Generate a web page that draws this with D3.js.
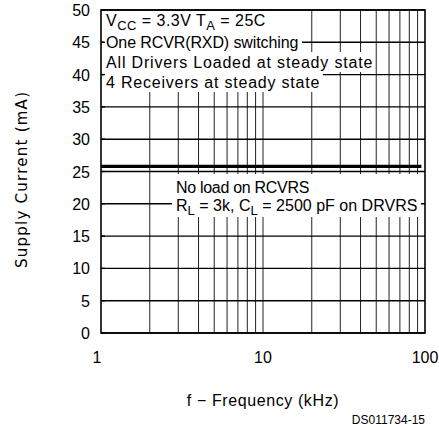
<!DOCTYPE html>
<html>
<head>
<meta charset="utf-8">
<script src="https://cdn.jsdelivr.net/npm/d3@7"></script>
<style>
body{margin:0;background:#fff}
text{font-family:"Liberation Sans",Arial,sans-serif;fill:#000}
</style>
</head>
<body>
<svg id="chart" width="439" height="427"></svg>
<script>
// supply current vs frequency
var freqs = [1, 2, 5, 10, 20, 50, 95]
var current = [25.8, 25.8, 25.8, 25.8, 25.8, 25.8, 25.8]
var yTicks = [0, 5, 10, 15, 20, 25, 30, 35, 40, 45, 50]
var xTicks = [1, 10, 100]
var xTickLabels = ["1", "10", "100"]

var svg = d3.select("#chart")
var xScale = d3.scaleLog().domain([1, 100]).range([101, 425])
var yScale = d3.scaleLinear().domain([0, 50]).range([333, 10])

// minor grid lines 2..9, 20..90
var gridFreqs = xScale.ticks().filter(function(d){ return d>1 && d<100 })
svg.selectAll(".vgrid").data(gridFreqs).enter().append("line")
    .attr("class","vgrid")
    .attr("x1",function(d){return xScale(d)}).attr("x2",function(d){return xScale(d)})
    .attr("y1",yScale(50)).attr("y2",yScale(0))
    .attr("stroke","#222").attr("stroke-width",1)

svg.selectAll(".hgrid").data(yTicks).enter().append("line")
    .attr("class","hgrid")
    .attr("x1",xScale(1)).attr("x2",xScale(100))
    .attr("y1",function(d){return yScale(d)}).attr("y2",function(d){return yScale(d)})
    .attr("stroke","#000").attr("stroke-width",1.4)

// annotation text, each row gets a white box behind it
var notes = [
    {parts:[["V",0],["CC",1],[" = 3.3V T",0],["A",1],[" = 25C",0]], x:106, y:26, len:160, box:[103,11,268,31]},
    {parts:[["One RCVR(RXD) switching",0]], x:106, y:48, len:193, box:[104,31,302,52]},
    {parts:[["All Drivers Loaded at steady state",0]], x:106, y:68, len:267, box:[103,52,375,72]},
    {parts:[["4 Receivers at steady state",0]], x:106, y:88, len:214, box:[104,72,323,92]},
    {parts:[["No load on RCVRS",0]], x:176, y:193, len:134, box:[172,174,421,196]},
    {parts:[["R",0],["L",1],[" = 3k, C",0],["L",1],[" = 2500 pF on DRVRS",0]], x:176, y:211, len:242, box:[172,196,421,217]}
]
svg.selectAll(".notebox").data(notes).enter().append("rect")
    .attr("class","notebox")
    .attr("x",function(d){return d.box[0]}).attr("y",function(d){return d.box[1]})
    .attr("width",function(d){return d.box[2]-d.box[0]}).attr("height",function(d){return d.box[3]-d.box[1]})
    .attr("fill","#fff")

notes.forEach(function(n){
    var t = svg.append("text").attr("x",n.x).attr("y",n.y)
        .attr("font-size",16).attr("letter-spacing",0.6)
    var sub = false
    n.parts.forEach(function(p){
        var ts = t.append("tspan").text(p[0])
        if(p[1]==1 && !sub){ ts.attr("dy",4).attr("font-size",13); sub=true }
        else if(p[1]==0 && sub){ ts.attr("dy",-4); sub=false }
    })
    t.attr("textLength",n.len).attr("lengthAdjust","spacing")
})

// the measured curve
var line = d3.line().x(function(d,i){return xScale(freqs[i])}).y(function(d){return yScale(d)})
svg.append("path").datum(current)
    .attr("d",line).attr("fill","none").attr("stroke","#000").attr("stroke-width",3.2)

// frame with short ticks
svg.append("rect").attr("x",xScale(1)).attr("y",yScale(50))
    .attr("width",xScale(100)-xScale(1)).attr("height",yScale(0)-yScale(50))
    .attr("fill","none").attr("stroke","#000").attr("stroke-width",1.6)
svg.selectAll(".ytick").data(yTicks).enter().append("line")
    .attr("class","ytick")
    .attr("x1",xScale(1)).attr("x2",xScale(1)+4)
    .attr("y1",function(d){return yScale(d)}).attr("y2",function(d){return yScale(d)})
    .attr("stroke","#000").attr("stroke-width",1.4)

svg.selectAll(".ylab").data(yTicks).enter().append("text")
    .attr("class","ylab")
    .attr("x",90).attr("y",function(d){return yScale(d)+6})
    .attr("text-anchor","end").attr("font-size",16)
    .text(function(d){return d})

svg.selectAll(".xlab").data(xTicks).enter().append("text")
    .attr("class","xlab")
    .attr("x",function(d,i){return xScale(d) - (i==0?4:0)}).attr("y",363)
    .attr("text-anchor","middle").attr("font-size",16)
    .text(function(d,i){return xTickLabels[i]})

svg.append("text").attr("x",263).attr("y",406)
    .attr("text-anchor","middle").attr("font-size",16).attr("letter-spacing",0.6)
    .text("f \u2212 Frequency (kHz)")

svg.append("text").attr("transform","translate(27,180) rotate(-90)")
    .attr("text-anchor","middle").attr("font-size",15)
    .style("font-family","'DejaVu Sans',sans-serif")
    .attr("textLength",176).attr("lengthAdjust","spacing")
    .text("Supply Current (mA)")

svg.append("text").attr("x",425).attr("y",424)
    .attr("text-anchor","end").attr("font-size",12)
    .text("DS011734-15")
</script>
</body>
</html>
